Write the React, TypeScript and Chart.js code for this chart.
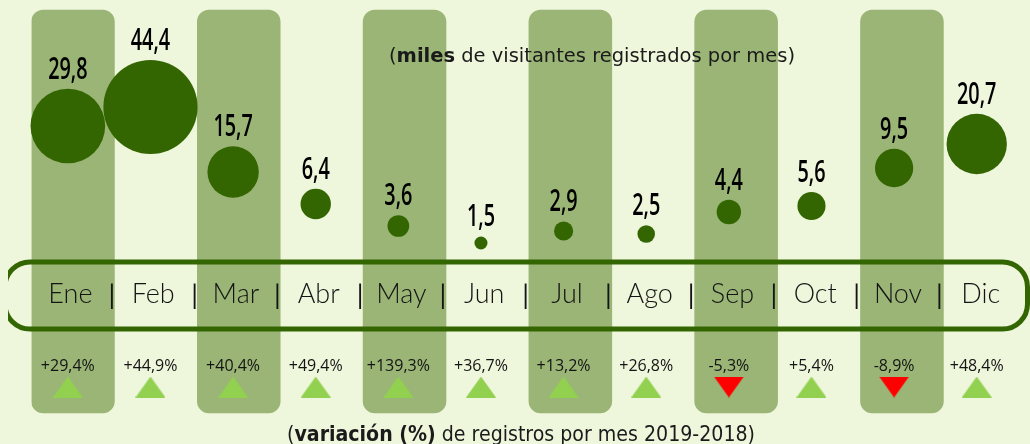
import React, { useEffect, useRef } from "react";
import { Chart, registerables } from "chart.js";

Chart.register(...registerables);

// ---------- data ----------
const months = ["Ene", "Feb", "Mar", "Abr", "May", "Jun", "Jul", "Ago", "Sep", "Oct", "Nov", "Dic"];
// miles de visitantes registrados por mes
const visitors = [29.8, 44.4, 15.7, 6.4, 3.6, 1.5, 2.9, 2.5, 4.4, 5.6, 9.5, 20.7];
// variación (%) 2019-2018
const variation = [29.4, 44.9, 40.4, 49.4, 139.3, 36.7, 13.2, 26.8, -5.3, 5.4, -8.9, 48.4];
// vertical placement of each bubble (height units on a 0-444 scale)
const bubbleLevel = [318, 337, 272, 240, 218, 201, 213, 210, 232, 238, 276, 300];
// months with a shaded column behind them
const shadedMonths = [true, false, true, false, true, false, true, false, true, false, true, false];

const valueLabels = visitors.map((v) => v.toFixed(1).replace(".", ","));
const variationLabels = variation.map((v) => (v > 0 ? "+" : "") + v.toFixed(1).replace(".", ",") + "%");

// ---------- style / layout constants ----------
const BG = "#EEF6DC";
const BAND = "#9AB576";
const DARK = "#336600";
const UP = "#92D050";
const DOWN = "#FF0000";
const BAND_RANGE: [number, number] = [31, 434];
const TRI_LEVEL = 57;

function makeTri(up: boolean, color: string) {
  const c = document.createElement("canvas");
  c.width = 30;
  c.height = 21;
  const g = c.getContext("2d")!;
  g.fillStyle = color;
  g.beginPath();
  if (up) {
    g.moveTo(15, 0);
    g.lineTo(30, 21);
    g.lineTo(0, 21);
  } else {
    g.moveTo(0, 0);
    g.lineTo(30, 0);
    g.lineTo(15, 21);
  }
  g.closePath();
  g.fill();
  return c;
}

// draws a caption with a bold part, fitted to a target width
function drawMixed(
  ctx: CanvasRenderingContext2D,
  parts: [string, boolean][],
  cx: number,
  y: number,
  size: number,
  targetW: number
) {
  const fam = "'DejaVu Sans', sans-serif";
  let total = 0;
  const widths = parts.map(([t, b]) => {
    ctx.font = `${b ? "bold " : ""}${size}px ${fam}`;
    const w = ctx.measureText(t).width;
    total += w;
    return w;
  });
  const sx = targetW / total;
  ctx.save();
  ctx.translate(cx - targetW / 2, y);
  ctx.scale(sx, 1);
  ctx.textAlign = "left";
  let x = 0;
  parts.forEach(([t, b], i) => {
    ctx.font = `${b ? "bold " : ""}${size}px ${fam}`;
    ctx.fillText(t, x, 0);
    x += widths[i];
  });
  ctx.restore();
}

function roundRectPath(ctx: CanvasRenderingContext2D, x: number, y: number, w: number, h: number, r: number) {
  ctx.beginPath();
  ctx.moveTo(x + r, y);
  ctx.lineTo(x + w - r, y);
  ctx.arcTo(x + w, y, x + w, y + r, r);
  ctx.lineTo(x + w, y + h - r);
  ctx.arcTo(x + w, y + h, x + w - r, y + h, r);
  ctx.lineTo(x + r, y + h);
  ctx.arcTo(x, y + h, x, y + h - r, r);
  ctx.lineTo(x, y + r);
  ctx.arcTo(x, y, x + r, y, r);
  ctx.closePath();
}

const overlayPlugin = {
  id: "overlay",
  afterDatasetsDraw(chart: any) {
    const ctx: CanvasRenderingContext2D = chart.ctx;
    const xs = chart.scales.x;
    const x2 = chart.scales.x2;
    ctx.save();

    // rounded outline around the month row (clipped at the left)
    ctx.save();
    ctx.beginPath();
    ctx.rect(8, 0, chart.width - 8, chart.height);
    ctx.clip();
    ctx.strokeStyle = DARK;
    ctx.lineWidth = 5;
    roundRectPath(ctx, 5, 262, 1022.5, 67, 25);
    ctx.stroke();
    ctx.restore();

    // month labels and separators
    const cx = months.map((_, i) => (xs.getPixelForValue(i) + x2.getPixelForValue(i)) / 2);
    ctx.fillStyle = "#141414";
    ctx.textAlign = "center";
    ctx.textBaseline = "alphabetic";
    ctx.font = "300 27px Lato, 'Noto Sans', sans-serif";
    months.forEach((m, i) => ctx.fillText(m, cx[i], 303));
    ctx.font = "27px Lato, 'Noto Sans', sans-serif";
    for (let i = 0; i < months.length - 1; i++) {
      ctx.fillText("|", (cx[i] + cx[i + 1]) / 2, 304);
    }

    // value labels above the bubbles (condensed, hand-drawn look)
    const bmeta = chart.getDatasetMeta(1);
    ctx.fillStyle = "#000";
    ctx.font = "600 31px 'Open Sans', sans-serif";
    bmeta.data.forEach((el: any, i: number) => {
      const r = el.options.radius;
      ctx.save();
      ctx.translate(el.x, el.y - r - 10);
      ctx.scale(0.64, 1);
      ctx.fillText(valueLabels[i], 0, 0);
      ctx.restore();
    });

    // variation labels above the triangles
    const tmeta = chart.getDatasetMeta(2);
    ctx.fillStyle = "#141414";
    ctx.font = "16px 'Open Sans', sans-serif";
    tmeta.data.forEach((el: any, i: number) => {
      ctx.fillText(variationLabels[i], el.x, el.y - 16.5);
    });

    // captions
    ctx.fillStyle = "#1a1a1a";
    drawMixed(ctx, [["(", false], ["miles", true], [" de visitantes registrados por mes)", false]], 592, 62, 19, 406);
    drawMixed(ctx, [["(", false], ["variación (%)", true], [" de registros por mes 2019-2018)", false]], 521, 441, 21, 468);

    ctx.restore();
  },
};

export default function App() {
  const ref = useRef<HTMLCanvasElement>(null);

  useEffect(() => {
    const canvas = ref.current!;
    const upTri = makeTri(true, UP);
    const downTri = makeTri(false, DOWN);

    const chart = new Chart(canvas, {
      type: "bar",
      data: {
        labels: months,
        datasets: [
          {
            type: "bar",
            data: shadedMonths.map((s) => (s ? BAND_RANGE : null)) as any,
            backgroundColor: BAND,
            borderRadius: 12,
            borderSkipped: false,
            barPercentage: 1,
            categoryPercentage: 1,
            grouped: false,
            xAxisID: "x",
            yAxisID: "y",
            order: 3,
          },
          {
            type: "bubble",
            data: visitors.map((v, i) => ({ x: i, y: bubbleLevel[i], r: 5.14 * Math.pow(v, 0.584) })),
            backgroundColor: DARK,
            borderWidth: 0,
            xAxisID: "x2",
            yAxisID: "y",
            order: 1,
            clip: false,
          } as any,
          {
            type: "scatter",
            data: variation.map((_, i) => ({ x: i, y: TRI_LEVEL })),
            pointStyle: (c: any) => (variation[c.dataIndex] >= 0 ? upTri : downTri),
            pointRadius: 10,
            showLine: false,
            xAxisID: "x2",
            yAxisID: "y",
            order: 2,
            clip: false,
          } as any,
        ],
      },
      options: {
        responsive: false,
        animation: false,
        events: [],
        layout: { autoPadding: false, padding: { left: 31.5, right: 3.7, top: 0, bottom: 0 } },
        plugins: { legend: { display: false }, tooltip: { enabled: false } },
        scales: {
          x: { type: "category", display: false, offset: true, grid: { display: false } },
          x2: { type: "linear", display: false, offset: false, min: -0.44, max: 11.6, grid: { offset: false } },
          y: { type: "linear", display: false, min: 0, max: 444 },
        },
      } as any,
      plugins: [overlayPlugin],
    });

    const fonts = [
      "27px Lato",
      "300 27px Lato",
      "19px 'DejaVu Sans'",
      "bold 19px 'DejaVu Sans'",
      "600 31px 'Open Sans'",
      "16px 'Open Sans'",
    ];
    Promise.all(fonts.map((f) => (document as any).fonts.load(f)))
      .catch(() => null)
      .then(() => {
        if ((chart as any).ctx) chart.update("none");
      });

    return () => chart.destroy();
  }, []);

  return (
    <div style={{ position: "fixed", left: 0, top: 0, width: 1030, height: 444, background: BG }}>
      <canvas ref={ref} width={1030} height={444} style={{ display: "block" }} />
    </div>
  );
}
